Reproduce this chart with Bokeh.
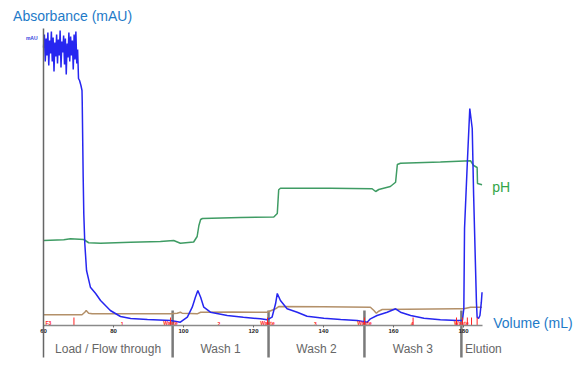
from bokeh.plotting import figure
from bokeh.models import Range1d, LinearAxis, FixedTicker
from bokeh.core.properties import value
from bokeh.embed import file_html
from bokeh.resources import INLINE

# ---------------- data ----------------
# Absorbance (UV, mAU) vs volume (mL)
abs_vol = [60.0, 60.25, 60.5, 60.75, 61.0, 61.25, 61.5, 61.75, 62.0, 62.25,
           62.5, 62.75, 63.0, 63.25, 63.5, 63.75, 64.0, 64.25, 64.5, 64.75,
           65.0, 65.25, 65.5, 65.75, 66.0, 66.25, 66.5, 66.75, 67.0, 67.25,
           67.5, 67.75, 68.0, 68.25, 68.5, 68.75, 69.0, 69.25, 69.5, 69.75,
           70.0, 70.3, 70.7, 71.0, 71.06, 71.34, 71.51, 71.8, 72.3, 73.4,
           74.9, 76.3, 79.1, 82.0, 84.9, 89.7, 96.3, 99.1, 101.1, 102.5,
           103.4, 104.1, 104.9, 105.8, 107.7, 112.5, 117.1, 122.0, 123.9, 125.3,
           126.3, 126.8, 127.7, 129.6, 132.5, 135.3, 140.1, 144.9, 149.6, 152.5,
           153.4, 155.3, 158.2, 160.6, 162.0, 164.9, 168.7, 173.4, 178.2, 179.7,
           180.1, 180.3, 181.1, 181.8, 182.5, 182.9, 183.4, 183.7, 183.9, 184.3,
           184.7, 185.1, 185.3]
abs_mau = [2780, 2910, 2640, 2870, 2700, 2930, 2600, 2850, 2720, 2940,
           2640, 2880, 2540, 2830, 2690, 2910, 2620, 2860, 2700, 2950,
           2580, 2840, 2730, 2900, 2610, 2870, 2510, 2820, 2680, 2930,
           2640, 2890, 2700, 2850, 2560, 2910, 2660, 2940, 2620, 2760,
           2470, 2450, 2400, 2350, 2250, 1480, 1120, 820, 550, 383,
           320, 250, 150, 90, 70, 60, 50, 33, 83, 183,
           283, 350, 283, 183, 133, 100, 83, 67, 57, 83,
           217, 320, 250, 167, 133, 93, 73, 60, 50, 33,
           67, 100, 133, 167, 133, 100, 73, 57, 50, 50,
           170, 970, 1630, 2170, 1970, 1300, 630, 233, 83, 70,
           100, 233, 333]

# pH vs volume
ph_vol = [60.0, 65.8, 67.7, 71.5, 72.9, 76.3, 84.9, 93.4, 97.2, 99.1,
          102.9, 103.9, 104.4, 104.9, 105.4, 116.3, 125.8, 126.8, 127.2, 127.7,
          142.0, 153.9, 154.9, 155.8, 159.1, 160.6, 161.1, 162.0, 173.4, 182.0,
          182.9, 183.9, 184.0, 185.3]
ph_val = [6.04, 6.07, 6.11, 6.08, 5.95, 5.93, 5.97, 6.00, 6.04, 5.93,
          5.98, 6.20, 6.64, 6.88, 6.92, 6.96, 6.98, 7.12, 8.07, 8.13,
          8.13, 8.11, 8.00, 8.08, 8.20, 8.37, 9.08, 9.13, 9.18, 9.23,
          9.04, 8.96, 8.32, 8.27]

# Conductivity (mS/cm) vs volume
cond_vol = [60.0, 71.0, 71.8, 72.2, 72.9, 73.9, 96.3, 98.2, 99.1, 99.6,
            103.9, 104.9, 114.0, 123.9, 126.3, 127.2, 140.0, 153.4, 154.4, 155.1,
            155.8, 156.8, 178.2, 180.1, 182.0, 185.3]
cond_val = [3.57, 3.57, 4.43, 5.00, 4.10, 3.90, 3.90, 4.10, 4.43, 4.10,
            3.90, 4.43, 4.50, 4.43, 5.57, 6.33, 6.23, 6.10, 5.00, 4.10,
            4.77, 5.33, 5.57, 5.57, 6.10, 6.10]

# Run phases
section_edges = [60.0, 96.9, 124.3, 151.7, 179.4, 192.0]
section_names = ["Load / Flow through", "Wash 1", "Wash 2", "Wash 3", "Elution"]

# Fraction marks
frac_vol = [61.4, 82.5, 96.3, 110.1, 124.0, 137.7, 151.7, 165.3, 179.4]
frac_text = ["F3", "1", "Waste", "2", "Waste", "3", "Waste", "4", "Waste"]
frac_tick_vol = [68.7, 96.3, 124.0, 151.7, 165.6, 178.0, 179.7, 181.1, 182.3, 183.9]

x_ticks = [60, 80, 100, 120, 140, 160, 180]

# ---------------- figure ----------------
FONT = value("Liberation Sans")
BLUE_TXT = "#1e7ac8"

p = figure(width=576, height=359,
           x_range=Range1d(50, 212.29), y_range=Range1d(-340, 3170),
           x_axis_location=None, y_axis_location=None,
           output_backend="svg", toolbar_location=None,
           min_border=0, min_border_left=8, min_border_top=8)
p.outline_line_color = None
p.xgrid.visible = False
p.ygrid.visible = False
p.extra_y_ranges = {"ph": Range1d(1.28, 15.32), "cond": Range1d(-11.33, 105.67)}

# axes
xaxis = LinearAxis(fixed_location=0, bounds=(60, 185.5),
                   ticker=FixedTicker(ticks=x_ticks))
xaxis.axis_line_color = "#8a8a8a"
xaxis.axis_line_width = 1.5
xaxis.major_tick_line_color = "#666666"
xaxis.major_tick_in = 0
xaxis.major_tick_out = 2
xaxis.minor_tick_line_color = None
xaxis.major_label_text_font_size = "6px"
xaxis.major_label_text_font_style = "bold"
xaxis.major_label_text_color = "#222222"
xaxis.major_label_text_font = "Liberation Sans"
xaxis.major_label_standoff = 1
p.add_layout(xaxis, "below")

yaxis = LinearAxis(fixed_location=60, bounds=(-320, 2970),
                   ticker=FixedTicker(ticks=[]))
yaxis.axis_line_color = "#666666"
yaxis.axis_line_width = 1.5
yaxis.major_tick_line_color = None
yaxis.minor_tick_line_color = None
yaxis.major_label_text_color = None
p.add_layout(yaxis, "left")

# section dividers
dividers = section_edges[1:-1]
p.segment(x0=dividers, y0=[150] * len(dividers), x1=dividers, y1=[-320] * len(dividers),
          line_color="#7a7a7a", line_width=2.5)

# curves
p.line(cond_vol, cond_val, y_range_name="cond", line_color="#b39069", line_width=1.5)
p.line(ph_vol, ph_val, y_range_name="ph", line_color="#3f9c64", line_width=1.5)
p.line(abs_vol, abs_mau, line_color="#2626f0", line_width=1.5)

# fraction marks
p.segment(x0=frac_tick_vol, y0=[0] * len(frac_tick_vol), x1=frac_tick_vol,
          y1=[80] * len(frac_tick_vol), line_color="#ff2020", line_width=1)
p.text(x=frac_vol, y=[0] * len(frac_vol), text=frac_text, text_font=FONT,
       text_font_size="5px", text_color="#ff2020", text_align="center",
       text_baseline="bottom", text_font_style="bold")

# section labels
centers = [(section_edges[i] + section_edges[i + 1]) / 2 for i in range(len(section_names))]
p.text(x=centers, y=[-230] * len(centers), text=section_names, text_font=FONT,
       text_font_size="12px", text_color="#666666", text_align="center",
       text_baseline="middle")

# titles / axis names
p.text(x=[51.3], y=[3100], text=["Absorbance (mAU)"], text_font=FONT,
       text_font_size="14px", text_color=BLUE_TXT, text_align="left",
       text_baseline="middle")
p.text(x=[58.3], y=[2875], text=["mAU"], text_font=FONT, text_font_size="5px",
       text_font_style="bold", text_color="#3344dd", text_align="right",
       text_baseline="middle")
p.text(x=[188.5], y=[30], text=["Volume (mL)"], text_font=FONT,
       text_font_size="14px", text_color=BLUE_TXT, text_align="left",
       text_baseline="middle")
p.text(x=[188.2], y=[1390], text=["pH"], text_font=FONT,
       text_font_size="14px", text_color="#33a547", text_align="left",
       text_baseline="middle")

open("out.html", "w").write(file_html(p, INLINE))
